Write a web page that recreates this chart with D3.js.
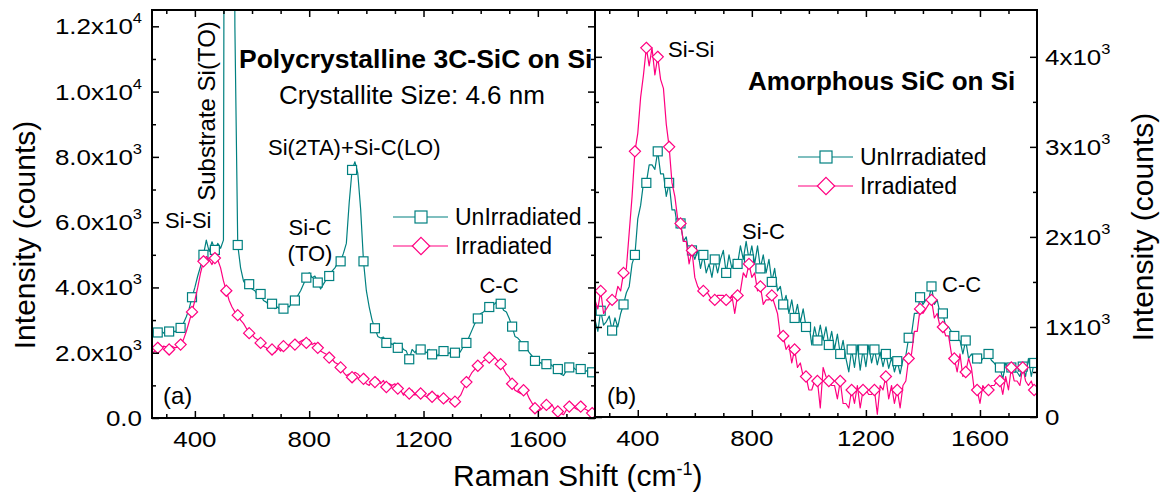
<!DOCTYPE html>
<html lang="en">
<head>
<meta charset="UTF-8" />
<title>Raman spectra of SiC on Si</title>
<script src="https://cdn.jsdelivr.net/npm/d3@7/dist/d3.min.js"></script>
<style>
  body { margin: 0; background: #fff; }
  svg { font-family: "Liberation Sans", Arial, sans-serif; }
</style>
</head>
<body>
<svg id="chart" width="1160" height="496"></svg>
<script>
// Raman shift grid (cm-1), one reading every 10 cm-1
const shift = d3.range(250, 1801, 10);

// (a) polycrystalline 3C-SiC on Si
const unirrA = [
  2560, 2700, 2620, 2680, 2600, 2700, 2650, 2720, 2640, 2700,
  2760, 2900, 3100, 3350, 3700, 4000, 4350, 4650, 5000, 5450,
  5100, 5400, 5150, 5350, 5200, 5450, 50000, 90000, 40000, 12000,
  5300, 4600, 4200, 4050, 4100, 3950, 3900, 3750, 3800, 3600,
  3550, 3450, 3500, 3350, 3400, 3300, 3350, 3450, 3400, 3550,
  3600, 3750, 3900, 4100, 4300, 4450, 4300, 4350, 4150, 3950,
  4100, 4250, 4350, 4500, 4600, 4750, 4800, 5050, 5350, 6600,
  7600, 7850, 7500, 6400, 4800, 3900, 3400, 3000, 2750, 2500,
  2450, 2480, 2300, 2350, 2250, 2300, 2150, 2250, 2100, 2050,
  1800, 2100, 2000, 2150, 2100, 2050, 2000, 2100, 1950, 2050,
  1900, 2000, 2050, 1950, 2000, 1900, 2000, 1920, 2050, 2200,
  2300, 2500, 2700, 2900, 3050, 3200, 3250, 3350, 3400, 3450,
  3500, 3600, 3500, 3300, 3250, 3050, 2800, 2500, 2450, 2350,
  2200, 2150, 2000, 1900, 1750, 1650, 1700, 1600, 1650, 1700,
  1600, 1550, 1500, 1350, 1300, 1450, 1550, 1600, 1500, 1450,
  1500, 1400, 1450, 1350, 1400, 1350
];
const irrA = [
  1980, 2050, 2150, 2100, 2200, 2180, 2100, 2200, 2150, 2180,
  2250, 2400, 2650, 2950, 3250, 3600, 4000, 4450, 4800, 4950,
  4850, 4700, 4900, 4850, 4600, 4200, 3900, 3600, 3400, 3250,
  3150, 3000, 2900, 2750, 2600, 2550, 2450, 2400, 2300, 2200,
  2150, 2050, 2100, 2000, 2150, 2050, 2200, 2150, 2250, 2200,
  2250, 2300, 2350, 2400, 2300, 2400, 2250, 2300, 2150, 2050,
  2000, 1950, 1850, 1800, 1700, 1650, 1550, 1400, 1300, 1350,
  1250, 1400, 1350, 1250, 1200, 1050, 1000, 1150, 1100, 1200,
  1050, 1150, 950, 1050, 1000, 1050, 900, 850, 700, 800,
  750, 850, 700, 800, 750, 700, 650, 750, 650, 600,
  700, 550, 600, 500, 600, 550, 500, 600, 700, 900,
  1100, 1250, 1400, 1500, 1600, 1650, 1750, 1800, 1850, 1900,
  1850, 1750, 1650, 1500, 1350, 1250, 1050, 850, 800, 750,
  850, 800, 600, 450, 300, 200, 250, 350, 400, 300,
  400, 250, 200, 150, 100, 250, 350, 400, 300, 250,
  350, 300, 250, 200, 150, 100
];

// (b) amorphous SiC on Si
const unirrB = [
  1080, 950, 1180, 1020, 1060, 1120, 960, 1100, 1000, 1150,
  1250, 1380, 1450, 1700, 1800, 2200, 2350, 2600, 2600, 2800,
  2800, 2750, 2950, 2700, 2700, 2450, 2600, 2300, 2300, 2100,
  2150, 1950, 2000, 1800, 1850, 1750, 1850, 1650, 1800, 1600,
  1700, 1550, 1750, 1600, 1750, 1850, 1600, 1800, 1650, 1750,
  1700, 1900, 1750, 1950, 1750, 1900, 1700, 1900, 1650, 1800,
  1600, 1750, 1500, 1650, 1400, 1450, 1250, 1350, 1150, 1300,
  1100, 1250, 1050, 1200, 1000, 1050, 800, 1000, 850, 1020,
  850, 1000, 800, 950, 750, 920, 700, 850, 650, 500,
  750, 550, 800, 520, 750, 560, 800, 600, 750, 580,
  720, 560, 700, 540, 660, 500, 620, 480, 640, 680,
  880, 920, 1150, 1150, 1330, 1250, 1300, 1300, 1450, 1250,
  1300, 1150, 1150, 1000, 1000, 950, 900, 850, 850, 700,
  850, 650, 700, 650, 650, 600, 650, 650, 700, 630,
  600, 550, 550, 420, 600, 550, 550, 500, 500, 450,
  560, 450, 650, 450, 600, 550
];
const irrB = [
  1300, 1200, 1400, 1150, 1200, 1250, 1300, 1300, 1450, 1400,
  1600, 1650, 2050, 2450, 2950, 3150, 3550, 3800, 4100, 3900,
  4100, 3800, 4000, 3750, 3650, 3250, 3000, 2600, 2450, 2200,
  2150, 1950, 1950, 1700, 1850, 1550, 1450, 1400, 1400, 1400,
  1350, 1300, 1300, 1350, 1350, 1350, 1300, 1300, 1350, 1150,
  1350, 1400, 1600, 1550, 1700, 1550, 1600, 1400, 1450, 1250,
  1300, 1300, 1350, 1250, 1150, 900, 900, 750, 800, 600,
  750, 550, 600, 450, 450, 300, 300, 400, 400, 100,
  550, 450, 400, 350, 350, 200, 400, 150, 150, 100,
  300, 150, 350, 100, 300, 300, 250, 250, 300, 30,
  350, 300, 450, 200, 350, 150, 300, 100, 350, 400,
  650, 700, 950, 950, 1200, 1150, 1200, 1250, 1300, 1100,
  1150, 1000, 1000, 900, 900, 700, 650, 500, 700, 450,
  500, 650, 550, 300, 300, 150, 350, 300, 300, 350,
  350, 400, 400, 250, 450, 300, 550, 400, 400, 350,
  550, 400, 350, 400, 300, 250
];

const seriesNames = ['UnIrradiated', 'Irradiated'];
const xTicks = [400, 800, 1200, 1600];
const xMinor = d3.range(300, 1800, 100);
const yTicksA = [0, 2000, 4000, 6000, 8000, 10000, 12000];
const yLabelsA = [['0.0', ''], ['2.0x10', '3'], ['4.0x10', '3'], ['6.0x10', '3'],
                  ['8.0x10', '3'], ['1.0x10', '4'], ['1.2x10', '4']];
const yMinorA = [1000, 3000, 5000, 7000, 9000, 11000];
const yTicksB = [0, 1000, 2000, 3000, 4000];
const yLabelsB = [['0', ''], ['1x10', '3'], ['2x10', '3'], ['3x10', '3'], ['4x10', '3']];
const yMinorB = [500, 1500, 2500, 3500];

const teal = '#008080';
const pink = '#ff0080';
const svg = d3.select('#chart');

// hollow markers, white filled
function marker(g, kind, cx, cy, s, color) {
  if (kind === 'square') {
    g.append('rect')
      .attr('x', cx - s / 2).attr('y', cy - s / 2)
      .attr('width', s).attr('height', s)
      .attr('fill', '#fff').attr('stroke', color).attr('stroke-width', 1.2);
  } else {
    const r = s * 0.62;
    g.append('path')
      .attr('d', `M${cx},${cy - r}L${cx + r},${cy}L${cx},${cy + r}L${cx - r},${cy}Z`)
      .attr('fill', '#fff').attr('stroke', color).attr('stroke-width', 1.2);
  }
}

function drawPanel(p) {
  const x = d3.scaleLinear().domain([250, 1800]).range([p.left, p.right]);
  const y = d3.scaleLinear().domain([0, p.ymax]).range([p.bottom, p.top]);
  const g = svg.append('g');

  g.append('clipPath').attr('id', 'clip-' + p.id)
    .append('rect')
    .attr('x', p.left).attr('y', p.top)
    .attr('width', p.right - p.left).attr('height', p.bottom - p.top);

  const plot = g.append('g').attr('clip-path', `url(#clip-${p.id})`);
  const line = d3.line().x(d => x(d[0])).y(d => y(d[1]));

  p.series.forEach(s => {
    const pts = shift.map((v, i) => [v, s.values[i]]);
    plot.append('path')
      .datum(pts)
      .attr('d', line)
      .attr('fill', 'none')
      .attr('stroke', s.color)
      .attr('stroke-width', 1.2)
      .attr('stroke-linejoin', 'round');
    const mg = plot.append('g');
    pts.forEach((d, i) => {
      if (i % 4 === 2) marker(mg, s.kind, x(d[0]), y(d[1]), 9, s.color);
    });
  });

  // inward ticks on all four sides
  const tick = (axis, vals, size, tx, ty) => {
    g.append('g')
      .attr('transform', `translate(${tx},${ty})`)
      .call(axis.tickValues(vals).tickSize(-size).tickSizeOuter(0).tickFormat(''))
      .call(a => a.select('.domain').remove())
      .call(a => a.selectAll('line').attr('stroke', '#000').attr('stroke-width', 1.5));
  };
  const minorX = xMinor.filter(v => !xTicks.includes(v));
  tick(d3.axisBottom(x), xTicks, 7, 0, p.bottom);
  tick(d3.axisBottom(x), minorX, 4, 0, p.bottom);
  tick(d3.axisTop(x), xTicks, 7, 0, p.top);
  tick(d3.axisTop(x), minorX, 4, 0, p.top);
  tick(d3.axisLeft(y), p.yTicks, 7, p.left, 0);
  tick(d3.axisLeft(y), p.yMinor, 4, p.left, 0);
  tick(d3.axisRight(y), p.yTicks, 7, p.right, 0);
  tick(d3.axisRight(y), p.yMinor, 4, p.right, 0);

  g.append('rect')
    .attr('x', p.left).attr('y', p.top)
    .attr('width', p.right - p.left).attr('height', p.bottom - p.top)
    .attr('fill', 'none').attr('stroke', '#000').attr('stroke-width', 2);

  // x tick labels (the source font is a little wide)
  g.selectAll('.xl').data(xTicks).enter().append('text')
    .attr('transform', d => `translate(${x(d)},${p.bottom + 29}) scale(1.18,1)`)
    .attr('text-anchor', 'middle').attr('font-size', 22)
    .text(d => d);

  // y tick labels with superscript exponent
  const yl = g.selectAll('.yl').data(p.yTicks).enter().append('text')
    .attr('transform', d => `translate(${p.labelX},${y(d) + 8}) scale(1.18,1)`)
    .attr('text-anchor', p.labelAnchor).attr('font-size', 22);
  yl.append('tspan').text((d, i) => p.yLabels[i][0]);
  yl.append('tspan').attr('dy', -11).attr('font-size', 14).text((d, i) => p.yLabels[i][1]);

  // legend
  p.series.forEach((s, i) => {
    const ly = p.legend[1] + i * 29;
    g.append('line')
      .attr('x1', p.legend[0]).attr('x2', p.legend[0] + 55)
      .attr('y1', ly).attr('y2', ly)
      .attr('stroke', s.color).attr('stroke-width', 1.2);
    marker(g, s.kind, p.legend[0] + 28, ly, s.kind === 'square' ? 12 : 14, s.color);
    g.append('text')
      .attr('x', p.legend[0] + 62).attr('y', ly + 7.5)
      .attr('font-size', 23)
      .text(seriesNames[i]);
  });

  // annotations
  p.notes.forEach(n => {
    const t = g.append('text')
      .attr('font-size', n.size || 22)
      .attr('font-weight', n.bold ? 'bold' : 'normal')
      .attr('text-anchor', n.anchor || 'start')
      .text(n.text);
    if (n.rotate) t.attr('transform', `translate(${n.x},${n.y}) rotate(-90)`);
    else t.attr('x', n.x).attr('y', n.y);
  });
}

drawPanel({
  id: 'a', left: 152, right: 595, top: 10, bottom: 418, ymax: 12500,
  yTicks: yTicksA, yLabels: yLabelsA, yMinor: yMinorA,
  labelX: 142, labelAnchor: 'end',
  series: [
    { values: unirrA, color: teal, kind: 'square' },
    { values: irrA, color: pink, kind: 'diamond' }
  ],
  legend: [393, 217],
  notes: [
    { text: 'Polycrystalline 3C-SiC on Si', x: 239, y: 68, size: 26.5, bold: true },
    { text: 'Crystallite Size: 4.6 nm', x: 279, y: 104, size: 26 },
    { text: 'Substrate Si(TO)', x: 215, y: 111, size: 24, rotate: true, anchor: 'middle' },
    { text: 'Si-Si', x: 165, y: 228 },
    { text: 'Si(2TA)+Si-C(LO)', x: 268, y: 155 },
    { text: 'Si-C', x: 310, y: 235, anchor: 'middle' },
    { text: '(TO)', x: 310, y: 261, anchor: 'middle' },
    { text: 'C-C', x: 499, y: 293, anchor: 'middle' },
    { text: '(a)', x: 163, y: 404, size: 24 }
  ]
});

drawPanel({
  id: 'b', left: 595, right: 1037, top: 10, bottom: 417, ymax: 4520,
  yTicks: yTicksB, yLabels: yLabelsB, yMinor: yMinorB,
  labelX: 1045, labelAnchor: 'start',
  series: [
    { values: unirrB, color: teal, kind: 'square' },
    { values: irrB, color: pink, kind: 'diamond' }
  ],
  legend: [798, 157],
  notes: [
    { text: 'Si-Si', x: 668, y: 57 },
    { text: 'Amorphous SiC on Si', x: 748, y: 90, size: 26, bold: true },
    { text: 'Si-C', x: 742, y: 239 },
    { text: 'C-C', x: 942, y: 292 },
    { text: '(b)', x: 607, y: 404, size: 24 }
  ]
});

// axis titles
svg.append('text')
  .attr('transform', 'translate(35,235) rotate(-90)')
  .attr('text-anchor', 'middle').attr('font-size', 30)
  .text('Intensity (counts)');
svg.append('text')
  .attr('transform', 'translate(1153,227) rotate(-90)')
  .attr('text-anchor', 'middle').attr('font-size', 30)
  .text('Intensity (counts)');

const xt = svg.append('text')
  .attr('x', 453).attr('y', 486).attr('font-size', 30);
xt.append('tspan').text('Raman Shift (cm');
xt.append('tspan').attr('dy', -11).attr('font-size', 18).text('-1');
xt.append('tspan').attr('dy', 11).text(')');
</script>
</body>
</html>
